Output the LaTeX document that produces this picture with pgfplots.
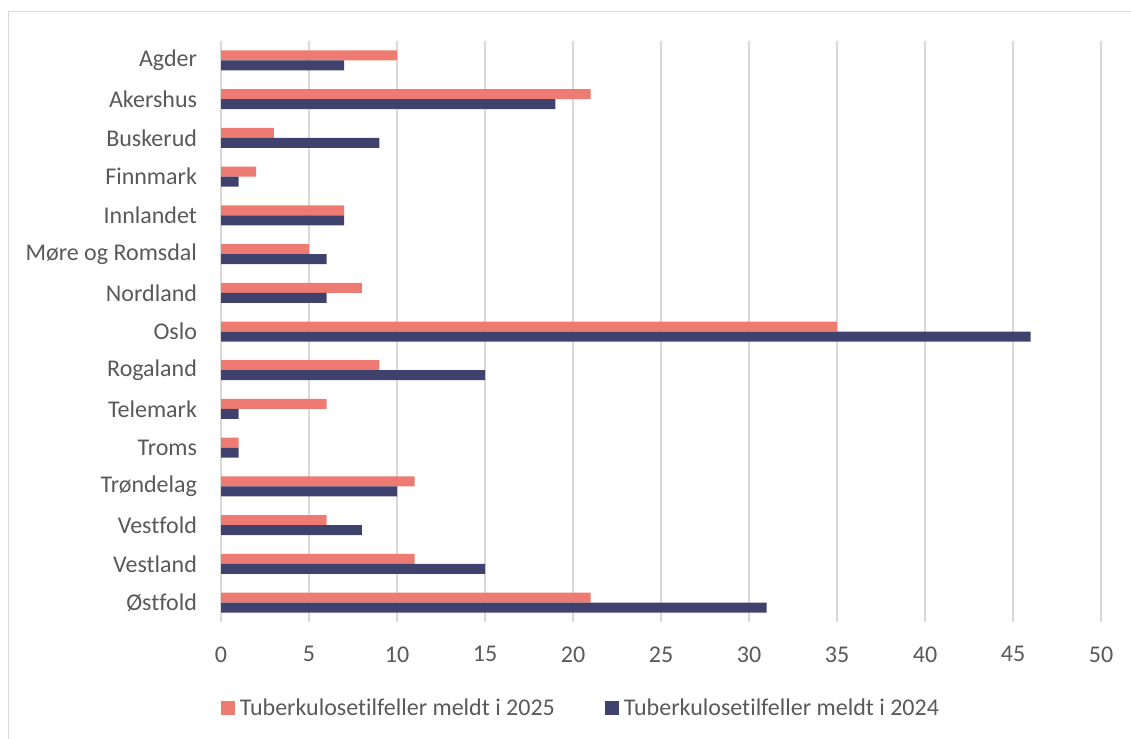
\documentclass[border=0pt]{standalone}
\usepackage{pgfplots}
\pgfplotsset{compat=1.18}
\usepackage{fontspec}
\setmainfont{Carlito}[Ligatures={NoCommon}]
\definecolor{sal}{HTML}{EE7B72}
\definecolor{nav}{HTML}{3F426D}
\definecolor{txt}{HTML}{595959}
\definecolor{grd}{HTML}{D9D9D9}
\begin{document}
\begin{tikzpicture}[x=1pt,y=1pt]
\path[use as bounding box] (0,0) rectangle (1131,738);
\draw[grd,line width=1.5pt] (8.5,-5) -- (8.5,726.5) -- (1140,726.5);
\begin{axis}[
  at={(221pt,116pt)}, anchor=south west,
  scale only axis, width=880pt, height=581pt,
  xbar, bar width=10pt,
  xmin=0, xmax=50, xtick={0,5,...,50},
  ymin=-0.5, ymax=14.5, y dir=reverse,
  ytick={0,...,14},
  yticklabels={Agder,Akershus,Buskerud,Finnmark,Innlandet,Møre og Romsdal,Nordland,Oslo,Rogaland,Telemark,Troms,Trøndelag,Vestfold,Vestland,Østfold},
  axis line style={draw=none},
  major tick length=0pt,
  xmajorgrids, grid style={grd,line width=1.5pt},
  ymajorgrids=false,
  tick label style={font=\fontsize{24}{29}\selectfont, text=txt},
  /pgf/number format/assume math mode=true,
  xticklabel style={yshift=-21pt},
  yticklabel style={xshift=-20.5pt},
  legend style={at={(0.409,-0.148)}, anchor=center, draw=none, fill=none,
    font=\fontsize{24}{29}\selectfont, text=txt, legend columns=2,
    /tikz/every even column/.append style={column sep=48pt}},
  legend image code/.code={\fill[#1] (0pt,-7pt) rectangle (14pt,7pt);\path (17pt,0pt);},
  legend cell align=left,
  clip=false,
]
\addplot[fill=sal, draw=none, bar shift=5pt] coordinates {
(10,0) (21,1) (3,2) (2,3) (7,4) (5,5) (8,6) (35,7) (9,8) (6,9) (1,10) (11,11) (6,12) (11,13) (21,14)};
\addplot[fill=nav, draw=none, bar shift=-5pt] coordinates {
(7,0) (19,1) (9,2) (1,3) (7,4) (6,5) (6,6) (46,7) (15,8) (1,9) (1,10) (10,11) (8,12) (15,13) (31,14)};
\legend{Tuberkulosetilfeller meldt i 2025, Tuberkulosetilfeller meldt i 2024}
\end{axis}
\end{tikzpicture}
\end{document}
